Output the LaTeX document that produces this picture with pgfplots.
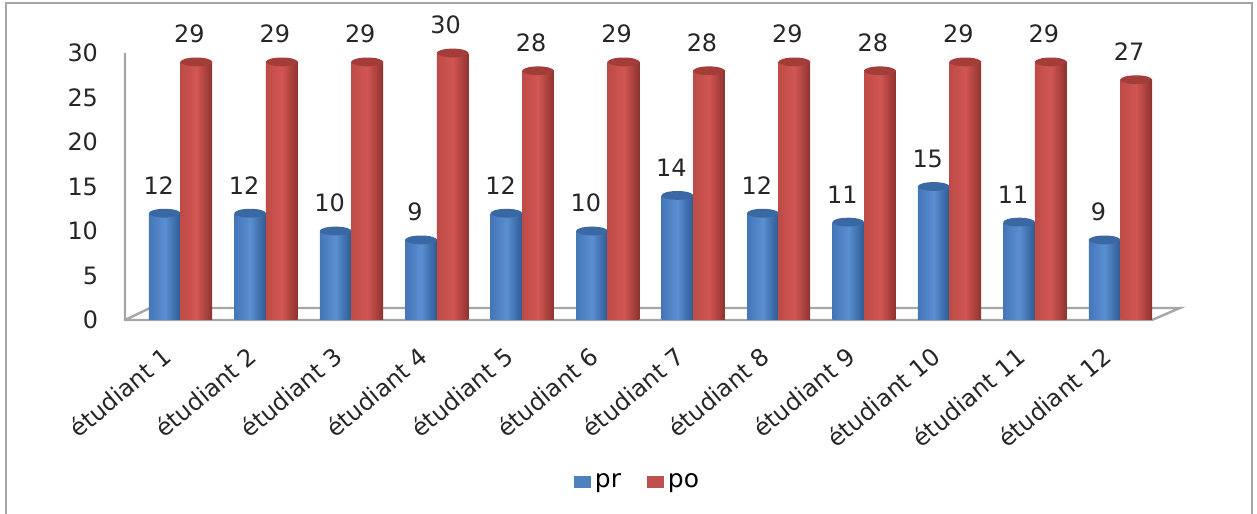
\documentclass[border=0pt]{standalone}
\usepackage{fontspec}
\setmainfont{DejaVu Sans}
\usepackage{pgfplots}
\usepackage{pgfplotstable}
\pgfplotsset{compat=1.18}
\definecolor{prmid}{HTML}{5B8FD1}
\definecolor{prleft}{HTML}{4476B8}
\definecolor{prright}{HTML}{2D5A93}
\definecolor{prtop}{HTML}{3A68A3}
\definecolor{pomid}{HTML}{D25652}
\definecolor{poleft}{HTML}{BE4B47}
\definecolor{poright}{HTML}{8E3330}
\definecolor{potop}{HTML}{A33D3A}
\definecolor{prflat}{HTML}{4F81BD}
\definecolor{poflat}{HTML}{C0504D}
\definecolor{framegray}{HTML}{A6A6A6}
\pgfdeclareplotmark{cyltop}{%
  \pgfpathellipse{\pgfpointorigin}{\pgfqpoint{7.9bp}{0pt}}{\pgfqpoint{0pt}{2.2bp}}%
  \pgfusepathqfill}
\pgfplotstableread{
x pr po
0 12 29
1 12 29
2 10 29
3 9 30
4 12 28
5 10 29
6 14 28
7 12 29
8 11 28
9 15 29
10 11 29
11 9 27
}\data
\begin{document}
\begin{tikzpicture}
\useasboundingbox (0,0) rectangle (628.5bp,257bp);
\draw[framegray, line width=1.3bp] (3bp,-5bp) -- (3bp,255.5bp) -- (626bp,255.5bp) -- (626bp,-5bp);
\begin{axis}[
  at={(62.5bp,97bp)}, anchor=south west,
  scale only axis, width=513.5bp, height=133.5bp,
  xmin=-0.65, xmax=11.37, ymin=0, ymax=30,
  ytick={0,5,...,30},
  xtick={0,...,11},
  xticklabels={étudiant 1,étudiant 2,étudiant 3,étudiant 4,étudiant 5,étudiant 6,étudiant 7,étudiant 8,étudiant 9,étudiant 10,étudiant 11,étudiant 12},
  axis line style={draw=none},
  major tick length=0pt,
  /pgf/number format/assume math mode=true,
  yticklabel style={font=\fontsize{12}{14}\selectfont, text=black!85, xshift=-10bp},
  xticklabel style={font=\fontsize{12}{14}\selectfont, text=black!85, xshift=-4bp, yshift=-14bp, rotate=40, anchor=east},
  clip=false,
  legend style={at={(0.5,-0.607)}, anchor=center, legend columns=2, draw=none, fill=none,
    font=\fontsize{12.5}{14}\selectfont, /tikz/every even column/.append style={column sep=11bp}},
  legend image code/.code={\fill[#1, draw=none] (0bp,-3bp) rectangle (8.5bp,3bp);},
  every node near coord/.append style={font=\fontsize{12}{14}\selectfont, text=black!85, yshift=6bp},
]
\fill[white] (axis cs:-0.65,0) -- (axis cs:11.37,0) -- ++(14bp,6bp) -- ([xshift=12.5bp,yshift=6bp]axis cs:-0.65,0) -- cycle;
\draw[framegray, line width=1.2bp] (axis cs:-0.65,30) -- (axis cs:-0.65,0) -- (axis cs:11.37,0) -- ++(14bp,6bp) -- ([xshift=12.5bp,yshift=6bp]axis cs:-0.65,0) -- (axis cs:-0.65,0);
\addlegendimage{fill=prflat}
\addlegendentry{pr}
\addlegendimage{fill=poflat}
\addlegendentry{po}
\pgfplotsinvokeforeach{0,...,11}{
  \addplot[ybar, bar width=0.37, bar shift=-0.185, draw=none, left color=prleft, right color=prright, middle color=prmid,
    x filter/.expression={abs(x-#1)<0.3 ? x : nan}, forget plot, nodes near coords,
    every node near coord/.append style={xshift=-10.9bp}] table[x=x, y=pr]{\data};
  \addplot[only marks, mark=cyltop, color=prtop, x filter/.expression={abs(x-(#1-0.185))<0.1 ? x : nan}, forget plot] table[x expr=\thisrow{x}-0.185, y=pr]{\data};
  \addplot[ybar, bar width=0.37, bar shift=0.185, draw=none, left color=poleft, right color=poright, middle color=pomid,
    x filter/.expression={abs(x-#1)<0.3 ? x : nan}, forget plot, nodes near coords,
    every node near coord/.append style={xshift=4.4bp}] table[x=x, y=po]{\data};
  \addplot[only marks, mark=cyltop, color=potop, x filter/.expression={abs(x-(#1+0.185))<0.1 ? x : nan}, forget plot] table[x expr=\thisrow{x}+0.185, y=po]{\data};
}
\end{axis}
\end{tikzpicture}
\end{document}
